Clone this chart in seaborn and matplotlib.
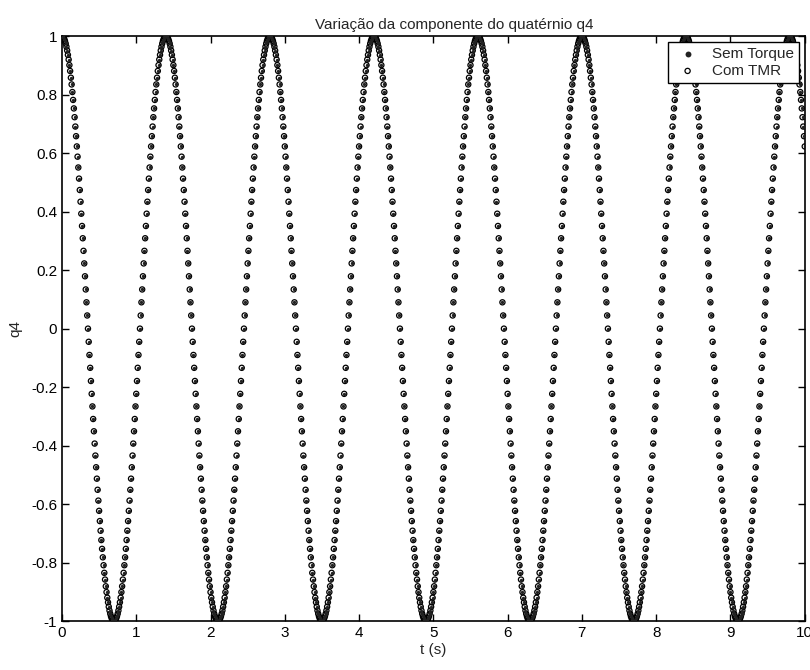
import numpy as np
import matplotlib
matplotlib.use('Agg')
import matplotlib.pyplot as plt
import seaborn as sns

# q4 read over a quarter of one cycle (from +1 down to 0), one value per sample
q4_quarter = [1.000, 0.999, 0.996, 0.991, 0.984, 0.975, 0.964, 0.951, 0.936,
              0.920, 0.901, 0.881, 0.858, 0.835, 0.809, 0.782, 0.753, 0.723,
              0.691, 0.658, 0.623, 0.588, 0.551, 0.513, 0.474, 0.434, 0.393,
              0.351, 0.309, 0.266, 0.223, 0.179, 0.134, 0.090, 0.045, 0.000]
dt = 0.01          # sample step (marker spacing)
t_end = 10.0
series_names = ['Sem Torque', 'Com TMR']
x_ticks = [0, 1, 2, 3, 4, 5, 6, 7, 8, 9, 10]
y_ticks = [-1, -0.8, -0.6, -0.4, -0.2, 0, 0.2, 0.4, 0.6, 0.8, 1]
y_tick_labels = ['-1', '-0.8', '-0.6', '-0.4', '-0.2', '0', '0.2', '0.4', '0.6', '0.8', '1']

# one full cycle by mirroring the quarter, then repeated over the run
quarter = np.array(q4_quarter)
half = np.concatenate([quarter, -quarter[-2::-1]])
cycle = np.concatenate([half, half[-2:0:-1]])
n = int(round(t_end / dt)) + 1
t = np.arange(n) * dt
q4_sem = np.tile(cycle, n // len(cycle) + 1)[:n]
q4_com = q4_sem.copy()

sns.set_style('ticks')
plt.rcParams['font.family'] = ['Liberation Sans', 'DejaVu Sans']

fig = plt.figure(figsize=(8.1, 6.7), dpi=100)
ax = fig.add_axes([0.0765, 0.073, 0.917, 0.873])

sns.scatterplot(x=t, y=q4_com, ax=ax, marker='o', s=14, facecolor='none',
                edgecolor='black', linewidth=0.9, label=series_names[1], zorder=2)
sns.scatterplot(x=t, y=q4_sem, ax=ax, marker='o', s=6, color='#222222',
                linewidth=0, label=series_names[0], zorder=3)

ax.set_xlim(0, 10)
ax.set_ylim(-1, 1)
ax.set_xticks(x_ticks)
ax.set_yticks(y_ticks)
ax.set_yticklabels(y_tick_labels)
ax.tick_params(direction='in', top=True, right=True, length=5, width=1,
               labelsize=11, colors='black')
for s in ax.spines.values():
    s.set_visible(True)
    s.set_color('black')
    s.set_linewidth(1.2)

ax.set_xlabel('t (s)', fontsize=11, labelpad=2)
ax.set_ylabel('q4', fontsize=11, labelpad=6)
ax.set_title('Variação da componente do quatérnio q4', fontsize=11, x=0.528, pad=5)

handles, labels = ax.get_legend_handles_labels()
order = [labels.index(n_) for n_ in series_names]
leg = ax.legend([handles[i] for i in order], [labels[i] for i in order],
                loc='upper right', fancybox=False, edgecolor='black', framealpha=1,
                fontsize=11, borderaxespad=0.4, handletextpad=0.6,
                borderpad=0.3, labelspacing=0.2)
leg.get_frame().set_linewidth(1.0)
leg.legend_handles[0].set_sizes([18])
leg.legend_handles[1].set_sizes([14])

fig.savefig('out.png', dpi=100)
